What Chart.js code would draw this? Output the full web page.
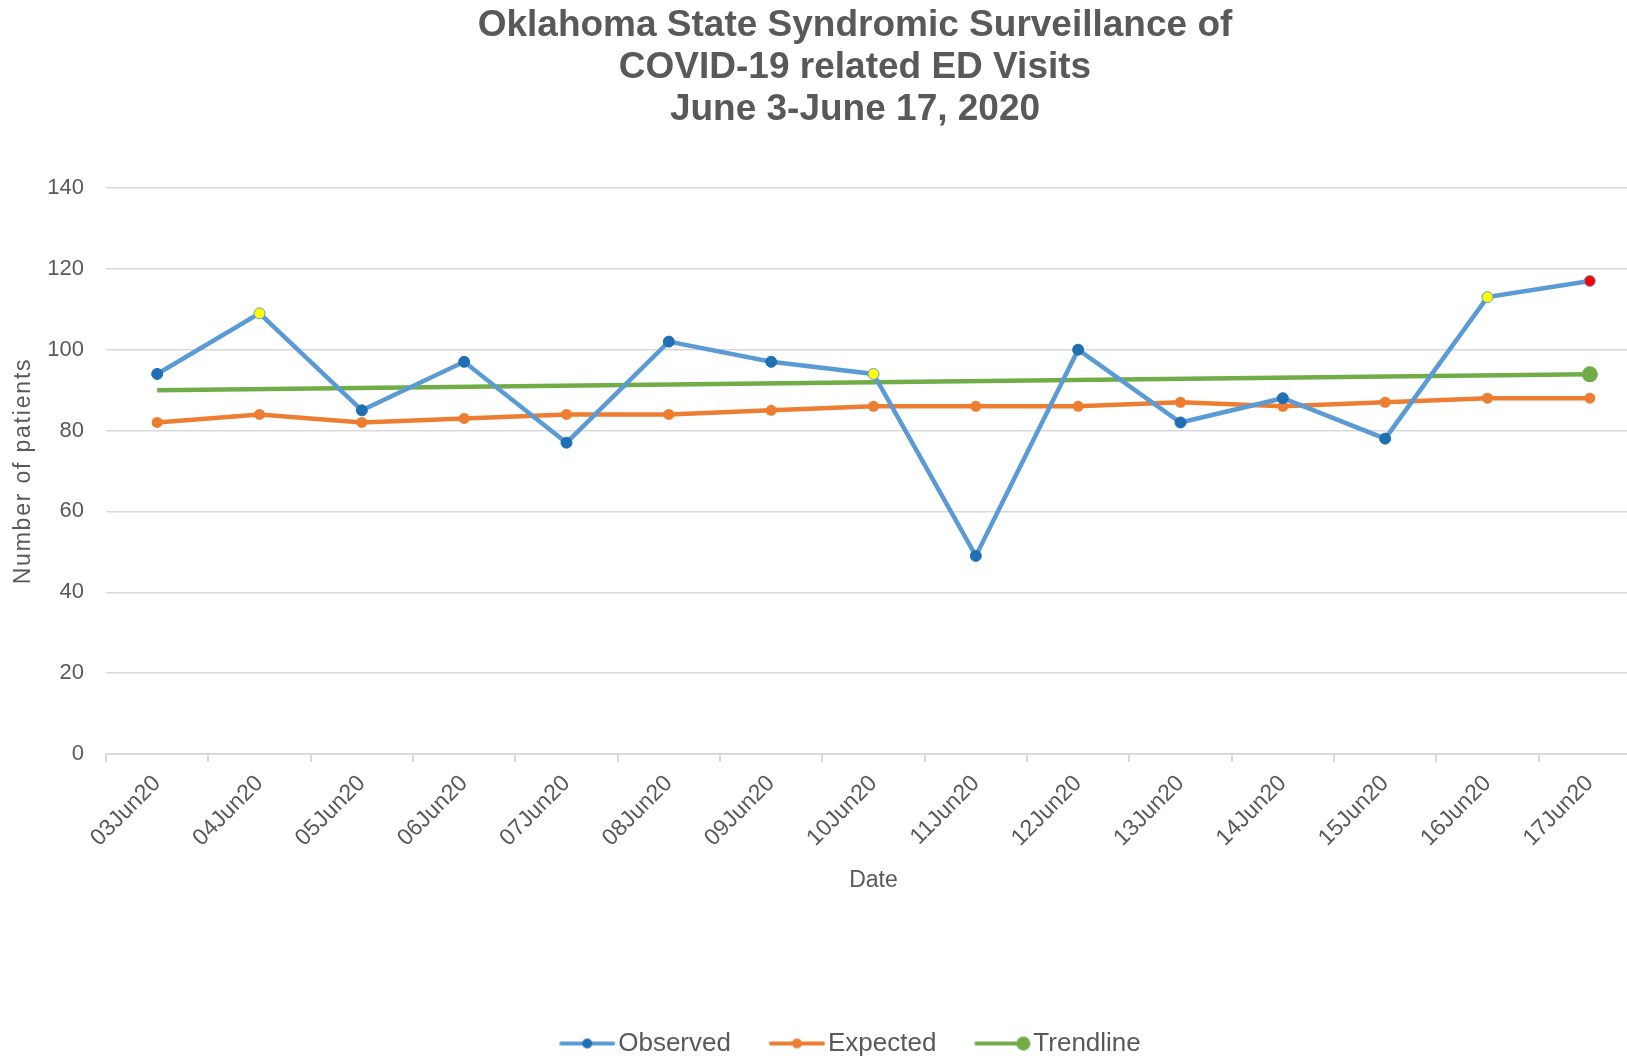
<!DOCTYPE html>
<html>
<head>
<meta charset="utf-8">
<script src="https://cdn.jsdelivr.net/npm/chart.js@4.4.1/dist/chart.umd.min.js"></script>
<style>
  html, body { margin: 0; padding: 0; background: #fff; overflow: hidden; }
  #wrap { position: relative; width: 1710px; height: 1056px; }
</style>
</head>
<body>
<div id="wrap"><canvas id="chart"></canvas></div>
<script>
// ── Data ──
const dates = ['03Jun20', '04Jun20', '05Jun20', '06Jun20', '07Jun20', '08Jun20', '09Jun20', '10Jun20',
  '11Jun20', '12Jun20', '13Jun20', '14Jun20', '15Jun20', '16Jun20', '17Jun20'];
const observed = [94, 109, 85, 97, 77, 102, 97, 94, 49, 100, 82, 88, 78, 113, 117];
const expected = [82, 84, 82, 83, 84, 84, 85, 86, 86, 86, 87, 86, 87, 88, 88];
// trendline: only the two ends are drawn, joined straight
const trendline = [90, null, null, null, null, null, null, null, null, null, null, null, null, null, 93.9];
// alert flag per observed day: 0 normal, 1 warning (yellow), 2 alert (red)
const alertLevel = [0, 1, 0, 0, 0, 0, 0, 1, 0, 0, 0, 0, 0, 1, 2];

const yMax = 140;
const yStep = 20;

const TEXT = '#595959';
const GRID = '#d9d9d9';
const BLUE = '#5b9bd5';
const BLUE_DOT = '#1f6fb5';
const ORANGE = '#ed7d31';
const GREEN = '#70ad47';
const FONT = '"Liberation Sans", Arial, sans-serif';

const markerFill = alertLevel.map(a => a === 2 ? '#ff0000' : a === 1 ? '#ffff00' : BLUE_DOT);
const markerBorder = alertLevel.map(a => a === 0 ? BLUE_DOT : BLUE);

// legend glyph: line with a dot on it
function legendGlyph(lineColor, dotColor, dotX, dotR) {
  const c = document.createElement('canvas');
  c.width = 58; c.height = 18;
  const ctx = c.getContext('2d');
  ctx.strokeStyle = lineColor;
  ctx.lineWidth = 4;
  ctx.lineCap = 'round';
  ctx.beginPath(); ctx.moveTo(3, 9); ctx.lineTo(55, 9); ctx.stroke();
  ctx.fillStyle = dotColor;
  ctx.beginPath(); ctx.arc(dotX, 9, dotR, 0, Math.PI * 2); ctx.fill();
  return c;
}
const glyphs = [
  legendGlyph(BLUE, BLUE_DOT, 29, 5),
  legendGlyph(ORANGE, ORANGE, 29, 5),
  legendGlyph(GREEN, GREEN, 50, 7),
];

new Chart(document.getElementById('chart'), {
  type: 'line',
  data: {
    labels: dates,
    datasets: [
      {
        label: 'Observed',
        data: observed,
        borderColor: BLUE,
        borderWidth: 4.5,
        pointRadius: 5.5,
        pointBackgroundColor: markerFill,
        pointBorderColor: markerBorder,
        pointBorderWidth: 1,
        tension: 0,
        order: 1,
      },
      {
        label: 'Expected',
        data: expected,
        borderColor: ORANGE,
        borderWidth: 4.5,
        pointRadius: 5.5,
        pointBackgroundColor: ORANGE,
        pointBorderColor: ORANGE,
        pointBorderWidth: 0,
        tension: 0,
        order: 2,
      },
      {
        label: 'Trendline',
        data: trendline,
        spanGaps: true,
        borderColor: GREEN,
        borderWidth: 4.5,
        pointRadius: trendline.map((v, i) => i === trendline.length - 1 ? 8 : 0),
        pointBackgroundColor: GREEN,
        pointBorderColor: GREEN,
        pointBorderWidth: 0,
        tension: 0,
        order: 3,
      },
    ],
  },
  options: {
    responsive: true,
    maintainAspectRatio: false,
    animation: false,
    layout: { padding: { left: 0, right: 0, top: 0, bottom: -10.5 } },
    plugins: {
      title: {
        display: true,
        text: ['Oklahoma State Syndromic Surveillance of', 'COVID-19 related ED Visits', 'June 3-June 17, 2020'],
        color: TEXT,
        font: { family: FONT, size: 37, weight: 'bold', lineHeight: 1.135 },
        padding: { top: 5, bottom: 57 },
      },
      legend: {
        position: 'bottom',
        labels: {
          color: TEXT,
          font: { family: FONT, size: 26 },
          usePointStyle: true,
          pointStyleWidth: 36,
          padding: 48,
          generateLabels: chart => chart.data.datasets.map((ds, i) => ({
            text: ds.label,
            fontColor: TEXT,
            pointStyle: glyphs[i],
            datasetIndex: i,
            hidden: false,
            lineWidth: 0,
          })),
        },
      },
      tooltip: { enabled: false },
    },
    scales: {
      x: {
        offset: true,
        grid: { drawOnChartArea: false, drawTicks: true, tickLength: 8, color: GRID, lineWidth: 2, offset: true },
        border: { color: GRID, width: 2 },
        ticks: { color: TEXT, font: { family: FONT, size: 23 }, minRotation: 45, maxRotation: 45, padding: 8 },
        title: {
          display: true,
          text: 'Date',
          color: TEXT,
          font: { family: FONT, size: 23 },
          padding: { top: 7, bottom: 88 },
        },
      },
      y: {
        min: 0,
        max: yMax,
        ticks: { stepSize: yStep, color: TEXT, font: { family: FONT, size: 22 }, padding: 22 },
        grid: { color: GRID, lineWidth: 1.5, drawTicks: false },
        border: { display: false },
        title: {
          display: true,
          text: 'Number of patients',
          color: TEXT,
          font: { family: FONT, size: 23 },
          padding: { top: 10, bottom: 10 },
        },
        afterFit: s => {
          s.width = 106;
          // the axis title in the reference is set with loose letter spacing
          s.drawTitle = function () {
            this.ctx.letterSpacing = '1.8px';
            Chart.Scale.prototype.drawTitle.call(this);
            this.ctx.letterSpacing = '0px';
          };
        },
      },
      // empty right-hand axis: keeps the plot running past the picture's right edge
      yRight: {
        position: 'right',
        display: true,
        grid: { display: false },
        border: { display: false },
        ticks: { display: false },
        afterFit: s => { s.width = 69; },
      },
    },
  },
});
</script>
</body>
</html>
